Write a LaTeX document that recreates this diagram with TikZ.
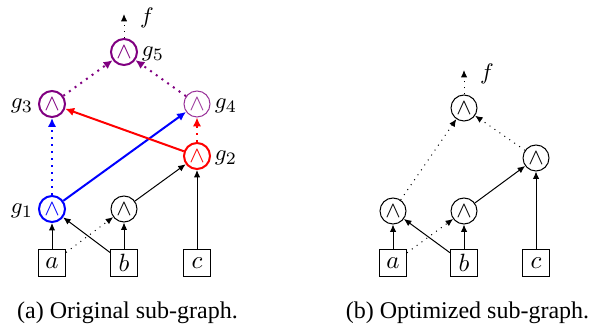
\documentclass[tikz,border=0pt]{standalone}
\usepackage{fontspec}
\setmainfont{Liberation Serif}
\usetikzlibrary{arrows.meta}
\definecolor{gpurple}{RGB}{128,0,128}
\begin{document}
\begin{tikzpicture}[x=0.4pt,y=-0.4pt,
  gate/.style={circle,draw,minimum size=10.4pt,inner sep=0pt,line width=0.4pt,
    font=\fontsize{9}{10}\selectfont},
  inbox/.style={draw,minimum size=10.8pt,inner sep=0pt,line width=0.4pt,
    font=\fontsize{10}{11}\selectfont},
  lbl/.style={font=\fontsize{9.5}{10}\selectfont,inner sep=0pt},
  wire/.style={line width=0.4pt,-{Latex[length=3pt,width=2.6pt]}},
  hot/.style={line width=0.8pt,-{Latex[length=3.6pt,width=3.4pt]}},
  captext/.style={font=\fontsize{9.6}{11}\selectfont,inner sep=0pt}]
\useasboundingbox (0,0) rectangle (605,331);

% ---- (a) original sub-graph ----
\node[gate,draw=gpurple,text=gpurple,line width=0.8pt] (g5) at (124,52) {$\wedge$};
\node[gate,draw=gpurple,text=gpurple,line width=0.8pt] (g3) at (52,104) {$\wedge$};
\node[gate,draw=gpurple!80,text=gpurple!80] (g4) at (197,104) {$\wedge$};
\node[gate,draw=red,text=red,line width=0.8pt] (g2) at (197,156) {$\wedge$};
\node[gate,draw=blue,text=blue,line width=0.8pt] (g1) at (52,209) {$\wedge$};
\node[gate] (m) at (124,209) {$\wedge$};
\node[inbox] (a) at (52,263) {$a$};
\node[inbox] (b) at (124,263) {$b$};
\node[inbox] (c) at (197,263) {$c$};
\coordinate (fa) at (124,14);
\node[lbl] (flab) at (147,18) {$f$};
\node[lbl] (l5) at (153,54) {$g_5$};
\node[lbl] (l3) at (22,106) {$g_3$};
\node[lbl] (l4) at (226,106) {$g_4$};
\node[lbl] (l2) at (226,158) {$g_2$};
\node[lbl] (l1) at (22,211) {$g_1$};

\draw[wire] (a) -- (g1);
\draw[wire] (b) -- (g1);
\draw[wire,dotted] (a) -- (m);
\draw[wire] (b) -- (m);
\draw[wire] (m) -- (g2);
\draw[wire] (c) -- (g2);
\draw[hot,blue,dotted] (g1) -- (g3);
\draw[hot,blue] (g1) -- (g4);
\draw[hot,red] (g2) -- (g3);
\draw[hot,red,dotted] (g2) -- (g4);
\draw[hot,gpurple,dotted] (g3) -- (g5);
\draw[hot,gpurple,dotted] (g4) -- (g5);
\draw[wire,dotted] (g5) -- (fa);

\node[captext] (capa) at (127.5,313) {(a) Original sub-graph.};

% ---- (b) optimized sub-graph ----
\node[gate] (t) at (464,108) {$\wedge$};
\node[gate] (r) at (536,158) {$\wedge$};
\node[gate] (p) at (393,211) {$\wedge$};
\node[gate] (q) at (464,211) {$\wedge$};
\node[inbox] (a2) at (393,263) {$a$};
\node[inbox] (b2) at (464,263) {$b$};
\node[inbox] (c2) at (536,263) {$c$};
\coordinate (fb) at (464,70);
\node[lbl] (flab2) at (487,74) {$f$};

\draw[wire] (a2) -- (p);
\draw[wire] (b2) -- (p);
\draw[wire,dotted] (a2) -- (q);
\draw[wire] (b2) -- (q);
\draw[wire] (q) -- (r);
\draw[wire] (c2) -- (r);
\draw[wire,dotted] (p) -- (t);
\draw[wire,dotted] (r) -- (t);
\draw[wire,dotted] (t) -- (fb);

\node[captext] (capb) at (467.5,313) {(b) Optimized sub-graph.};
\end{tikzpicture}
\end{document}
